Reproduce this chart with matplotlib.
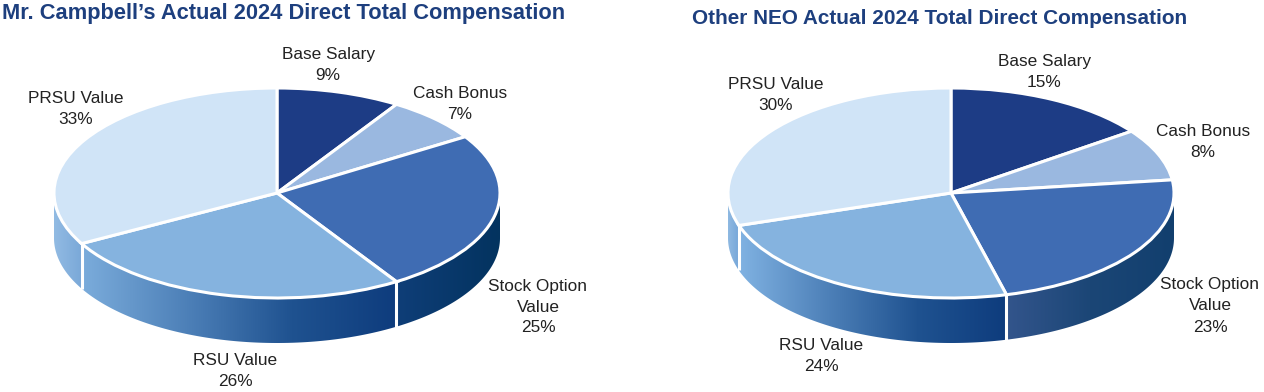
import numpy as np
import matplotlib
matplotlib.use('Agg')
import matplotlib.pyplot as plt
from matplotlib.colors import LinearSegmentedColormap
from matplotlib.patches import Polygon

plt.rcParams['font.family'] = ['Liberation Sans', 'DejaVu Sans']

# data
categories = ['Base Salary', 'Cash Bonus', 'Stock Option\nValue', 'RSU Value', 'PRSU Value']
campbell_values = [9, 7, 25, 26, 33]
neo_values = [15, 8, 23, 24, 30]
campbell_title = "Mr. Campbell\u2019s Actual 2024 Direct Total Compensation"
neo_title = 'Other NEO Actual 2024 Total Direct Compensation'

# colours
top_colors = ['#1d3c85', '#9ab8e0', '#3f6cb3', '#85b3df', '#d0e4f7']
text_color = '#222222'
title_color = '#1d3f7e'
campbell_sides = {2: ['#0f3e78', '#03335f'],
                  3: ['#7bacdb', '#4d80b8', '#1f5290', '#0e3c7d'],
                  4: ['#92bbe3', '#7aa8d8']}
neo_sides = {2: ['#33558c', '#1b4676', '#123f6e'],
             3: ['#80b2e2', '#4d80b8', '#1f5290', '#0e3c7d'],
             4: ['#8fb9e2', '#76a6d8']}

# layout in pixels
W, H = 1264, 392
RX, RY, DEPTH = 223, 105, 45
CY = 193
campbell_cx = 277
neo_cx = 951
campbell_labels_xy = [(328, 65), (460, 104), (538, 307), (235, 371), (76, 109)]
neo_labels_xy = [(1044, 72), (1203, 142), (1210, 306), (821, 356), (776, 95)]

fig = plt.figure(figsize=(W / 100, H / 100), dpi=100)


def draw_side(ax, a0, a1, colors, depth):
    # front wall of one slice, only the part facing the viewer
    a0, a1 = max(a0, 90), min(a1, 270)
    if a1 <= a0:
        return
    t = np.radians(np.linspace(a0, a1, 120))
    x, y = np.sin(t), np.cos(t)
    pts = np.r_[np.c_[x, y], np.c_[x, y - depth][::-1]]
    clip = Polygon(pts, transform=ax.transData, fc='none', ec='none')
    ax.add_patch(clip)
    cmap = LinearSegmentedColormap.from_list('side', colors)
    # x falls as the angle grows, so the gradient runs left to right
    grad = np.linspace(0, 1, 256).reshape(1, -1)
    im = ax.imshow(grad, cmap=cmap, aspect='auto', interpolation='bilinear',
                   extent=(x.min(), x.max(), pts[:, 1].min(), pts[:, 1].max()), zorder=1)
    im.set_clip_path(clip)


def draw_pie(cx, values, sides, labels_xy, title, title_x, title_y, title_size):
    ax = fig.add_axes([(cx - RX) / W, 1 - (CY + RY + DEPTH) / H,
                       2 * RX / W, (2 * RY + DEPTH) / H])
    depth = DEPTH / RY
    edges = np.cumsum([0] + values) / sum(values) * 360
    for i, colors in sides.items():
        draw_side(ax, edges[i], edges[i + 1], colors, depth)
    # white seams between the walls
    for a in edges:
        if 90 < a < 270:
            t = np.radians(a)
            ax.plot([np.sin(t)] * 2, [np.cos(t), np.cos(t) - depth], color='white',
                    lw=2.2, zorder=2, solid_capstyle='butt')
    wedges, _ = ax.pie(values, colors=top_colors, startangle=90, counterclock=False,
                       wedgeprops={'edgecolor': 'white', 'linewidth': 2.2})
    for w in wedges:
        w.set_zorder(3)
        w.set_clip_on(False)
    ax.set_aspect('auto')
    ax.set_xlim(-1, 1)
    ax.set_ylim(-1 - depth, 1)
    ax.axis('off')

    for cat, v, (x, y) in zip(categories, values, labels_xy):
        fig.text(x / W, 1 - y / H, f'{cat}\n{v}%', ha='center', va='center', fontsize=12.4,
                 color=text_color, linespacing=1.5, multialignment='center')
    fig.text(title_x / W, 1 - title_y / H, title, ha='left', va='center',
             fontsize=title_size, fontweight='bold', color=title_color)


draw_pie(campbell_cx, campbell_values, campbell_sides, campbell_labels_xy,
         campbell_title, 2, 14, 15.72)
draw_pie(neo_cx, neo_values, neo_sides, neo_labels_xy, neo_title, 692, 19, 14.95)

plt.savefig('out.png', dpi=100)
